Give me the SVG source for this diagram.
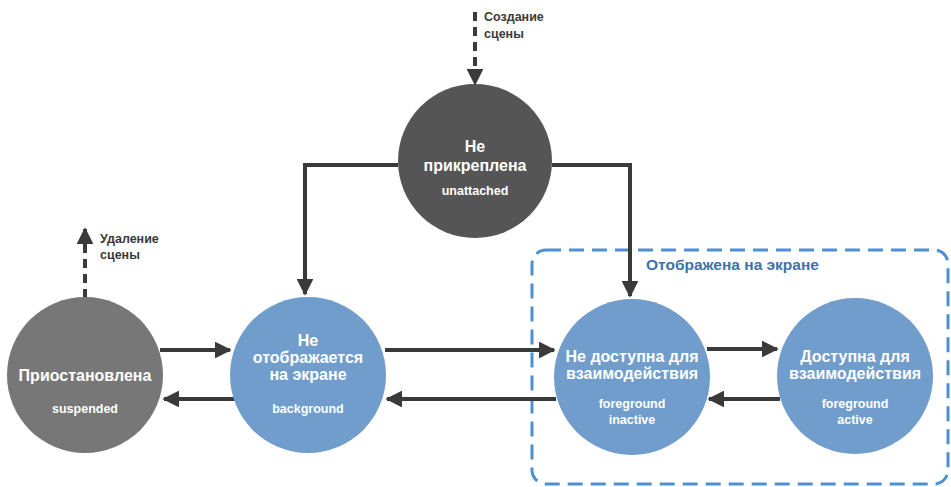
<svg xmlns="http://www.w3.org/2000/svg" width="951" height="487" viewBox="0 0 951 487">
<defs>
<marker id="ah" viewBox="0 0 10 10" refX="9" refY="5" markerWidth="4.2" markerHeight="4.2" markerUnits="strokeWidth" orient="auto">
<path d="M0,0 L10,5 L0,10 Z" fill="#3a3a3a"/>
</marker>
<style>
.t{font-family:"Liberation Sans","DejaVu Sans",sans-serif;font-weight:bold;fill:#fff;text-anchor:middle}
.big{font-size:16px}
.sm{font-size:12.5px}
.lbl{font-family:"Liberation Sans","DejaVu Sans",sans-serif;font-weight:bold;font-size:12.5px;fill:#3a3a3a}
.c{stroke:#3a3a3a;stroke-width:4;fill:none;marker-end:url(#ah)}
.d{stroke-dasharray:9 6}
</style>
</defs>
<rect width="951" height="487" fill="#fff"/>
<g id="group-onscreen">
<rect x="532" y="250" width="416" height="234" rx="14" fill="none" stroke="#4f90d0" stroke-width="3" stroke-dasharray="15 8"/>
<text x="646" y="270" font-family="Liberation Sans, DejaVu Sans, sans-serif" font-weight="bold" font-size="15.5" fill="#3f72aa">Отображена на экране</text>
</g>
<g id="connectors">
<path class="c d" d="M475,12 V84"/>
<path class="c d" d="M85,298 V229"/>
<path class="c" d="M398,165 H305 V294"/>
<path class="c" d="M552,165 H630 V296"/>
<path class="c" d="M160,350 H230"/>
<path class="c" d="M235,399 H164"/>
<path class="c" d="M385,350 H554"/>
<path class="c" d="M556,399 H387"/>
<path class="c" d="M707,349 H777"/>
<path class="c" d="M780,399 H709"/>
</g>
<g id="label-create">
<text class="lbl" x="484" y="21">Создание</text>
<text class="lbl" x="484" y="38">сцены</text>
</g>
<g id="label-delete">
<text class="lbl" x="100" y="243">Удаление</text>
<text class="lbl" x="100" y="259">сцены</text>
</g>
<g id="node-unattached">
<circle cx="475" cy="161" r="77" fill="#555555"/>
<text class="t big" x="475" y="152">Не</text>
<text class="t big" x="475" y="171">прикреплена</text>
<text class="t sm" x="475" y="195">unattached</text>
</g>
<g id="node-suspended">
<circle cx="85" cy="375" r="78" fill="#777777"/>
<text class="t big" x="85" y="381">Приостановлена</text>
<text class="t sm" x="85" y="413">suspended</text>
</g>
<g id="node-background">
<circle cx="308" cy="375" r="78" fill="#709dcb"/>
<text class="t big" x="308" y="346">Не</text>
<text class="t big" x="308" y="363">отображается</text>
<text class="t big" x="308" y="380">на экране</text>
<text class="t sm" x="308" y="413">background</text>
</g>
<g id="node-inactive">
<circle cx="632" cy="377" r="78" fill="#709dcb"/>
<text class="t big" x="632" y="362">Не доступна для</text>
<text class="t big" x="632" y="379">взаимодействия</text>
<text class="t sm" x="632" y="408">foreground</text>
<text class="t sm" x="632" y="424">inactive</text>
</g>
<g id="node-active">
<circle cx="855" cy="376" r="78" fill="#709dcb"/>
<text class="t big" x="855" y="362">Доступна для</text>
<text class="t big" x="855" y="379">взаимодействия</text>
<text class="t sm" x="855" y="408">foreground</text>
<text class="t sm" x="855" y="424">active</text>
</g>
</svg>
